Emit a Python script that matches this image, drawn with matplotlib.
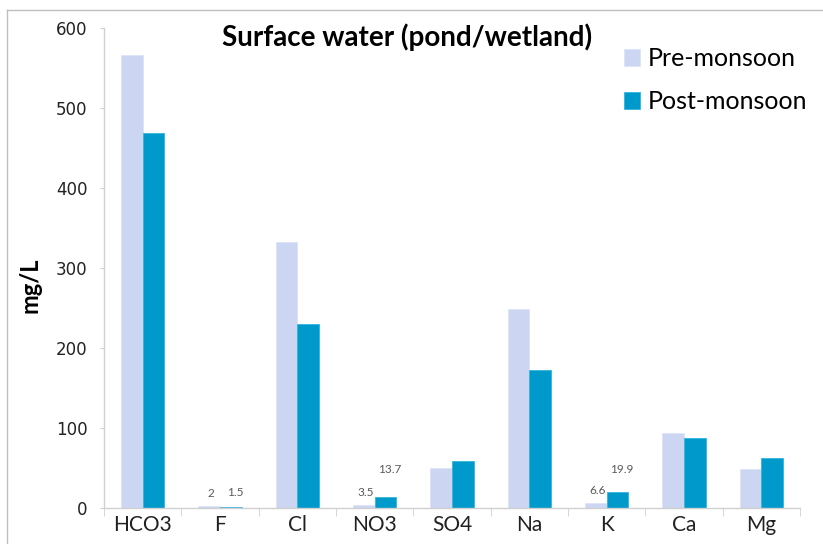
import numpy as np
import matplotlib
matplotlib.use("Agg")
import matplotlib.pyplot as plt
from matplotlib.lines import Line2D

# --- data ---
ions = ["HCO3", "F", "Cl", "NO3", "SO4", "Na", "K", "Ca", "Mg"]
pre_monsoon = [566, 2, 333, 3.5, 50, 249, 6.6, 94, 49]
post_monsoon = [469, 1.5, 230, 13.7, 59, 172, 19.9, 87, 62]
yticks = [0, 100, 200, 300, 400, 500, 600]

# small value labels shown only on a few bars
pre_labels = {1: "2", 3: "3.5", 6: "6.6"}
post_labels = {1: "1.5", 3: "13.7", 6: "19.9"}
post_label_offsets = {1: 10, 3: 20, 6: 16}   # points above the bar

PRE_COLOR = "#CCD6F2"
POST_COLOR = "#0099CC"
SPINE_COLOR = "#D0D0D0"

fig = plt.figure(figsize=(8.23, 5.44), dpi=100)
W, H = 823, 544
ax = fig.add_axes([104 / W, 1 - 508 / H, (800 - 104) / W, (508 - 28) / H])

x = np.arange(len(ions))
bw = 0.28
ax.bar(x - bw / 2, pre_monsoon, bw, color=PRE_COLOR, edgecolor="#DDE4F7",
       linewidth=0.6, label="Pre-monsoon")
ax.bar(x + bw / 2, post_monsoon, bw, color=POST_COLOR, edgecolor="#33B5DD",
       linewidth=0.6, label="Post-monsoon")

for i, txt in pre_labels.items():
    ax.annotate(txt, (x[i] - bw / 2, pre_monsoon[i]), xytext=(1, 9),
                textcoords="offset points", ha="center", va="center",
                fontsize=8.5, color="#595959", family="Lato")
for i, txt in post_labels.items():
    ax.annotate(txt, (x[i] + bw / 2, post_monsoon[i]),
                xytext=(3, post_label_offsets[i]),
                textcoords="offset points", ha="center", va="center",
                fontsize=8.5, color="#595959", family="Lato")

ax.set_xlim(-0.5, len(ions) - 0.5)
ax.set_ylim(0, 600)
ax.set_yticks(yticks)
ax.tick_params(axis="y", length=3, color=SPINE_COLOR, pad=9,
               labelsize=12, labelcolor="#222222")
ax.set_xticks(x)
ax.set_xticklabels(ions, family="Lato", fontsize=15, color="#222222")
ax.tick_params(axis="x", length=0, pad=5)
ax.set_xticks(np.arange(-0.5, len(ions) + 0.5, 1), minor=True)
ax.tick_params(axis="x", which="minor", length=6, color=SPINE_COLOR)

for s in ["top", "right"]:
    ax.spines[s].set_visible(False)
for s in ["left", "bottom"]:
    ax.spines[s].set_color(SPINE_COLOR)
    ax.spines[s].set_linewidth(1)

ax.set_ylabel("mg/L", fontsize=17, fontweight="bold", family="Lato")
ax.yaxis.set_label_coords(-0.09, 0.465)

fig.text(407 / W, 1 - 37 / H, "Surface water (pond/wetland)", ha="center",
         va="center", fontsize=20, fontweight="bold", family="Lato")

ax.legend(loc="upper left", bbox_to_anchor=(624 / W, 1 - 47 / H),
          bbox_transform=fig.transFigure, frameon=False, borderpad=0,
          borderaxespad=0, handlelength=0.65, handleheight=0.65,
          handletextpad=0.3, labelspacing=0.8,
          prop={"family": "Lato", "size": 18})

# light frame around the chart area
fig.add_artist(Line2D([7.5 / W, 7.5 / W], [0, 1 - 10 / H], color="#BFBFBF",
                      lw=1, transform=fig.transFigure))
fig.add_artist(Line2D([7.5 / W, 1], [1 - 10 / H, 1 - 10 / H], color="#BFBFBF",
                      lw=1, transform=fig.transFigure))

fig.savefig("out.png", dpi=100)
